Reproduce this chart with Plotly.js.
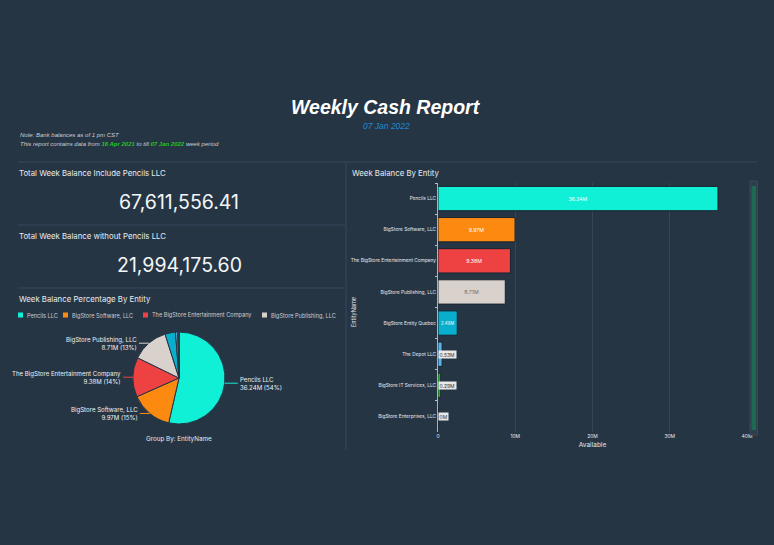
<!DOCTYPE html>
<html><head><meta charset="utf-8">
<script src="https://cdn.plot.ly/plotly-3.0.1.min.js"></script>
<style>html,body{margin:0;padding:0;background:#263544;}#chart{width:774px;height:545px;}</style>
</head><body><div id="chart"></div>
<script>
// ---------- data ----------
const entities = ["Pencils LLC","BigStore Software, LLC","The BigStore Entertainment Company","BigStore Publishing, LLC","BigStore Entity Quebec","The Depot LLC","BigStore IT Services, LLC","BigStore Enterprises, LLC"];
const available = [36240000, 9970000, 9380000, 8710000, 2490000, 530000, 290000, 4000];
const entityColors = ["#0ff0d6","#fd8a10","#ee4242","#d9d2cc","#08aecb","#55b6f2","#2fe02f","#9aa3b3"];
const barTextColors = ["#ffffff","#ffffff","#ffffff","#6b6b6b","#ffffff","#333333","#333333","#333333"];
const kpiTitles = ["Total Week Balance Include Pencils LLC","Total Week Balance without Pencils LLC"];
const kpiValues = ["67,611,556.41","21,994,175.60"];
const reportTitle = "Weekly Cash Report";
const reportDate = "07 Jan 2022";
const periodFrom = "16 Apr 2021";
const periodTo = "07 Jan 2022";
const noteText = "Note: Bank balances as of 1 pm CST";
const xTickVals = [0, 10000000, 20000000, 30000000, 40000000];
const xTickText = ["0","10M","20M","30M","40M"];
const legendCount = 4;      // entries visible in the pie legend row
const pieLabelCount = 4;    // slices with outside labels

// ---------- helpers ----------
const W = 774, H = 545, BG = "#263544", LINE = "#36475a";
const X = px => px / W, Y = py => 1 - py / H;
const fmtM = v => parseFloat((v / 1e6).toFixed(2)) + "M";
const total = available.reduce((a, b) => a + b, 0);
const FONT = "Inter, Roboto, sans-serif";
const SANS = "Liberation Sans, Arial, sans-serif";

const annotations = [], shapes = [];
function txt(text, x, y, size, color, opts) {
  annotations.push(Object.assign({text, x: X(x), y: Y(y), xref: "paper", yref: "paper",
    showarrow: false, font: {family: FONT, size, color}, xanchor: "left", yanchor: "middle"}, opts || {}));
}
function line(x0, y0, x1, y1, color) {
  shapes.push({type: "line", xref: "paper", yref: "paper", x0: X(x0), y0: Y(y0), x1: X(x1), y1: Y(y1),
    line: {color: color || LINE, width: 1}});
}
function rect(x0, y0, x1, y1, fill, lc) {
  shapes.push({type: "rect", xref: "paper", yref: "paper", x0: X(x0), y0: Y(y0), x1: X(x1), y1: Y(y1),
    fillcolor: fill, line: {color: lc || fill, width: lc ? 1 : 0}});
}

// ---------- header ----------
txt("<b><i>" + reportTitle + "</i></b>", 386, 107, 19.5, "#ffffff", {xanchor: "center", font: {family: SANS, size: 19.5, color: "#ffffff"}});
txt("<i>" + reportDate + "</i>", 386, 126, 8.5, "#1d8ad6", {xanchor: "center", font: {family: SANS, size: 8.5, color: "#1d8ad6"}});
txt("<i>" + noteText + "</i>", 18, 134.5, 6, "#c9ced4", {font: {family: SANS, size: 6, color: "#c9ced4"}});
txt("<i>This report contains data from <b><span style='color:#1fc81f'>" + periodFrom + "</span></b> to till <b><span style='color:#1fc81f'>" + periodTo + "</span></b> week period</i>",
  18, 143.5, 6, "#c9ced4", {font: {family: SANS, size: 6, color: "#c9ced4"}});

// ---------- panel dividers ----------
line(18, 162, 757, 162);
line(346, 162, 346, 450);
line(18, 225, 345, 225);
line(18, 288, 345, 288);

// ---------- KPIs ----------
kpiTitles.forEach((t, i) => {
  txt(t, 17, 173 + i * 63, 7.8, "#e8ecef");
  txt(kpiValues[i], 179, 202 + i * 63.5, 19.5, "#f3f5f7", {xanchor: "center"});
});

// ---------- pie panel ----------
txt("Week Balance Percentage By Entity", 17, 299, 7.8, "#e8ecef");
const legendX = [18, 63, 143, 262];
for (let i = 0; i < legendCount; i++) {
  rect(legendX[i], 312.5, legendX[i] + 5, 317.5, entityColors[i]);
  txt(entities[i], legendX[i] + 6.5, 315, 5.6, "#c9ced4");
}
txt("Group By: EntityName", 179, 439, 6.3, "#e8ecef", {xanchor: "center"});

const pieCx = 179, pieCy = 378, pieR = 46;
let cum = 0;
available.forEach((v, i) => {
  const frac = v / total, mid = cum + frac / 2;
  cum += frac;
  if (i >= pieLabelCount) return;
  const th = mid * 2 * Math.PI, s = Math.sin(th), c = Math.cos(th);
  const ex = pieCx + pieR * s, ey = pieCy - pieR * c;
  const right = s > 0;
  annotations.push({
    xref: "paper", yref: "paper", x: X(ex), y: Y(ey), ax: right ? 13 : -10, ay: 0,
    showarrow: true, arrowhead: 0, arrowwidth: 1, arrowcolor: entityColors[i], standoff: 0,
    text: entities[i] + "<br>" + fmtM(v) + " (" + Math.round(frac * 100) + "%)",
    align: right ? "left" : "right", xanchor: right ? "left" : "right", yanchor: "middle",
    font: {family: FONT, size: 6.1, color: "#eef1f3"}
  });
});

// ---------- bar panel ----------
txt("Week Balance By Entity", 350, 173, 7.8, "#e8ecef");
txt("EntityName", 353, 312, 5.5, "#e6e9ec", {xanchor: "center", textangle: -90});
const smallLimit = 1000000;
available.forEach((v, i) => {
  if (v < smallLimit) {
    annotations.push({xref: "x", yref: "y", x: 0, y: entities[i], xanchor: "left", yanchor: "middle",
      showarrow: false, text: fmtM(v), bgcolor: "#e9e9e9", borderpad: 0.5,
      font: {family: FONT, size: 5, color: "#333"}});
  }
});
// scrollbar
rect(750, 181, 757.5, 435, "#303d4b", "#3b4858");
rect(751.5, 186, 756, 430, "#1d6a52");

const data = [
  {
    type: "pie", labels: entities, values: available, sort: false, direction: "clockwise", rotation: 0,
    domain: {x: [X(pieCx - pieR), X(pieCx + pieR)], y: [Y(pieCy + pieR), Y(pieCy - pieR)]},
    marker: {colors: entityColors, line: {color: BG, width: 1}},
    textinfo: "none", hoverinfo: "skip", showlegend: false
  },
  {
    type: "bar", orientation: "h", y: entities, x: available,
    marker: {color: entityColors, line: {color: "#1a2531", width: 1}},
    text: available.map(v => v < smallLimit ? "" : fmtM(v)),
    textposition: "inside", insidetextanchor: "middle", textangle: 0,
    textfont: {family: FONT, size: 5.2, color: barTextColors},
    hoverinfo: "skip", showlegend: false, xaxis: "x", yaxis: "y"
  }
];

const layout = {
  width: W, height: H, margin: {l: 0, r: 0, t: 0, b: 0},
  paper_bgcolor: BG, plot_bgcolor: "rgba(0,0,0,0)",
  font: {family: FONT, color: "#e0e4e8"},
  showlegend: false, bargap: 0.22,
  xaxis: {
    domain: [X(438), X(747)], range: [0, 40000000], anchor: "y", automargin: false,
    tickvals: xTickVals, ticktext: xTickText, tickfont: {size: 5, color: "#e6e9ec"},
    showgrid: true, gridcolor: "#34465a", gridwidth: 1, zeroline: false, showline: false, ticks: "",
    title: {text: "Available", font: {size: 6.5, color: "#e6e9ec"}, standoff: 4}
  },
  yaxis: {
    domain: [Y(432), Y(183)], type: "category", autorange: "reversed", anchor: "x", automargin: false,
    tickfont: {size: 4.8, color: "#e6e9ec"}, ticks: "outside", tickson: "boundaries", ticklen: 2,
    tickcolor: "#b8c0c8", showline: true, linecolor: "#aab3bd", linewidth: 1, showgrid: false
  },
  annotations, shapes
};

Plotly.newPlot("chart", data, layout, {staticPlot: true, displayModeBar: false});
</script>
</body></html>
